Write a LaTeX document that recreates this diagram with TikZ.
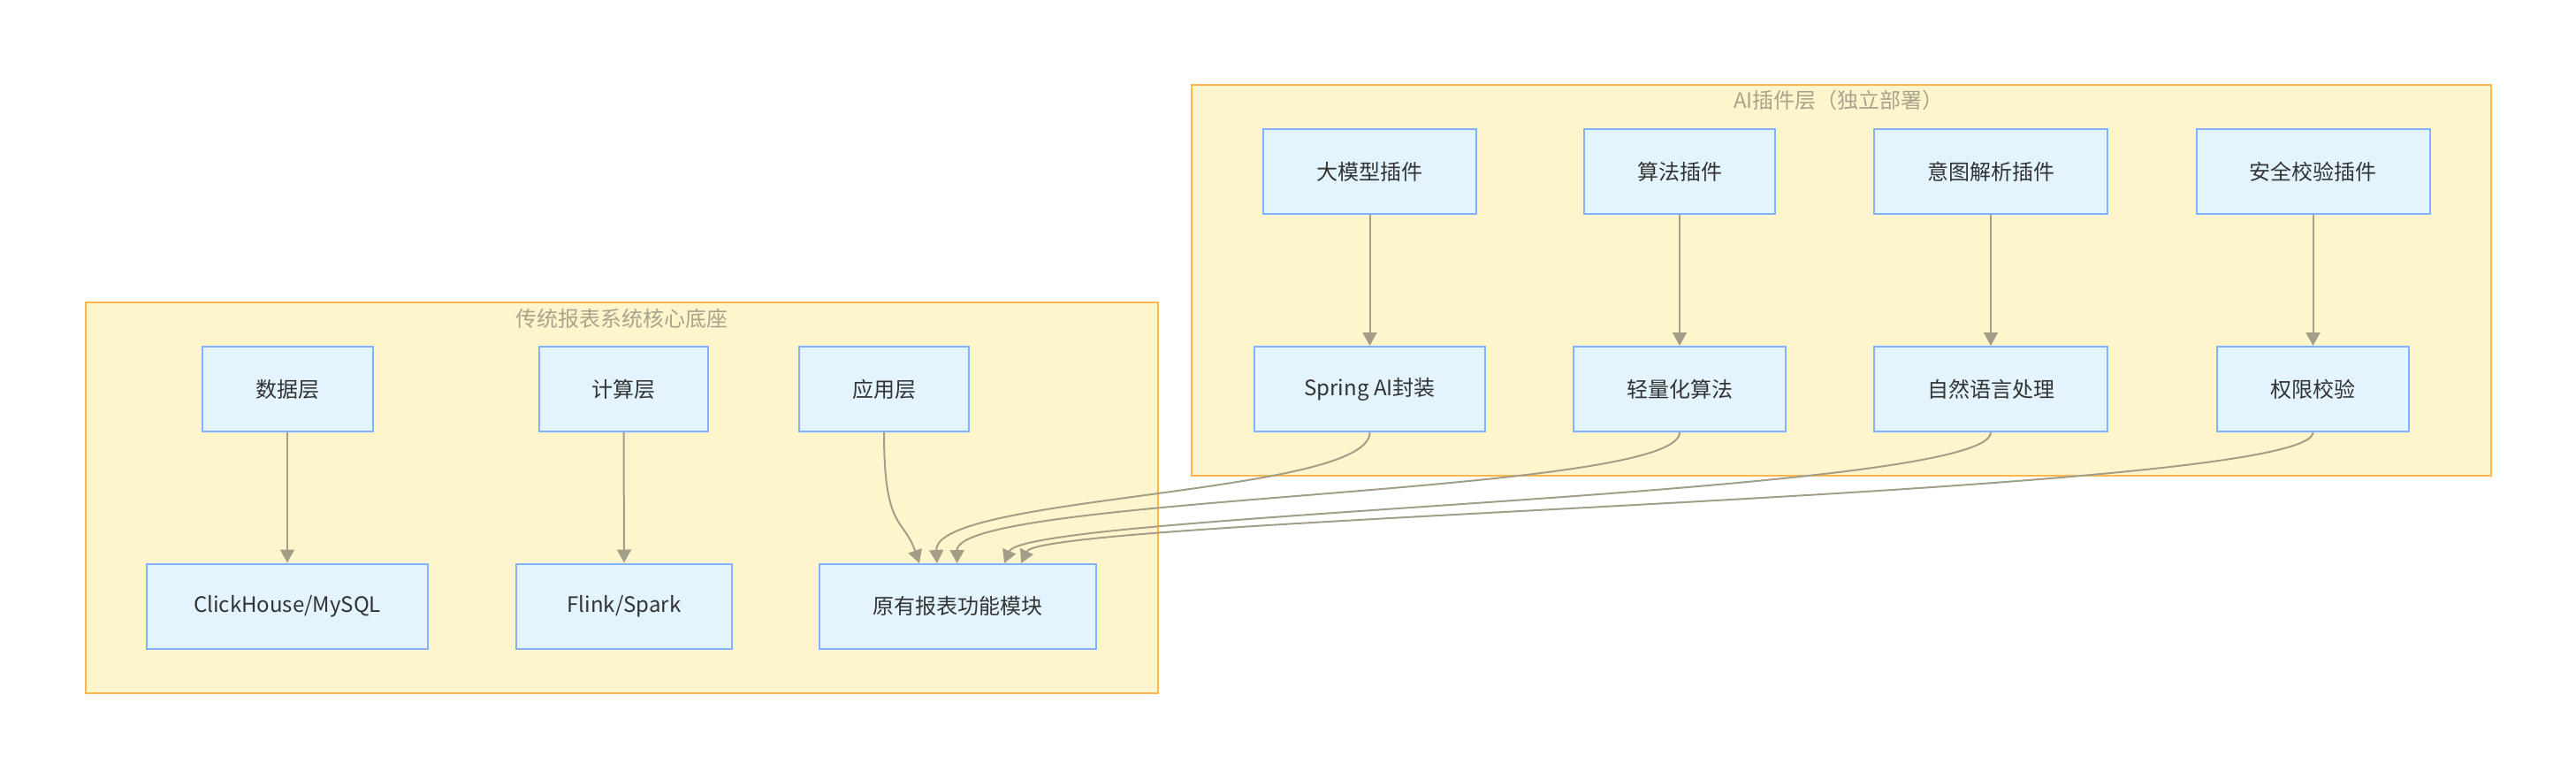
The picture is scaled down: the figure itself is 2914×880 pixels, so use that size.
\documentclass[tikz,border=0pt]{standalone}
\usepackage{fontspec}
\setmainfont{Noto Sans CJK SC}
\usetikzlibrary{arrows.meta}
\definecolor{clfill}{HTML}{FFF5CC}
\definecolor{cldraw}{HTML}{FFB74D}
\definecolor{ndfill}{HTML}{E3F4FE}
\definecolor{nddraw}{HTML}{82B1FF}
\definecolor{edgec}{HTML}{A39E87}
\definecolor{tipc}{HTML}{8E8972}
\definecolor{titlec}{HTML}{A8A38C}
\definecolor{txt}{HTML}{333333}
\tikzset{
  cluster/.style={fill=clfill,draw=cldraw,line width=1pt},
  ctitle/.style={text=titlec,font=\fontsize{12pt}{14pt}\selectfont,inner sep=0pt},
  box/.style={rectangle,fill=ndfill,draw=nddraw,line width=1pt,minimum height=48pt,
    text=txt,font=\fontsize{12pt}{14pt}\selectfont,inner sep=0pt},
  edge/.style={draw=edgec,line width=1pt,
    -{Triangle[width=8pt,length=7.5pt,fill=edgec]}},
}
\begin{document}
\begin{tikzpicture}[x=0.5pt,y=-0.5pt]
\useasboundingbox[fill=white] (0,0) rectangle (2914,880);
% clusters
\draw[cluster] (96.6,342) rectangle (1310,784);
\node[ctitle] (lt) at (703,360) {传统报表系统核心底座};
\draw[cluster] (1348,96) rectangle (2818,538);
\node[ctitle] (rt) at (2080,113) {AI插件层（独立部署）};
% left nodes
\node[box,minimum width=96.5pt] (d) at (325,440) {数据层};
\node[box,minimum width=95.5pt] (c) at (705.5,440) {计算层};
\node[box,minimum width=96pt] (a) at (1000,440) {应用层};
\node[box,minimum width=159pt] (ck) at (325,685.5) {ClickHouse/MySQL};
\node[box,minimum width=122pt] (fs) at (706,685.5) {Flink/Spark};
\node[box,minimum width=156.5pt] (yy) at (1083.5,685.5) {原有报表功能模块};
% right nodes
\node[box,minimum width=120.5pt] (p1) at (1549.5,194) {大模型插件};
\node[box,minimum width=108pt] (p2) at (1900,194) {算法插件};
\node[box,minimum width=132pt] (p3) at (2252,194) {意图解析插件};
\node[box,minimum width=132pt] (p4) at (2616.5,194) {安全校验插件};
\node[box,minimum width=130.5pt] (q1) at (1549.5,440) {Spring AI封装};
\node[box,minimum width=120pt] (q2) at (1900,440) {轻量化算法};
\node[box,minimum width=132pt] (q3) at (2252,440) {自然语言处理};
\node[box,minimum width=108.5pt] (q4) at (2616.5,440) {权限校验};
% target points on 原有报表功能模块
\coordinate (t0) at (1040,637);
\coordinate (t1) at (1060,637);
\coordinate (t2) at (1082.6,637);
\coordinate (t3) at (1136,637);
\coordinate (t4) at (1155,637);
% edges
\draw[edge] (d.south) -- (ck.north);
\draw[edge] (c.south) -- (fs.north);
\draw[edge] (p1.south) -- (q1.north);
\draw[edge] (p2.south) -- (q2.north);
\draw[edge] (p3.south) -- (q3.north);
\draw[edge] (p4.south) -- (q4.north);
\draw[edge] (a.south) .. controls (1000,600) and (1022,585) .. (t0);
\draw[edge] (q1.south) .. controls (1549.5,560) and (1056,560) .. (t1);
\draw[edge] (q2.south) .. controls (1900,560) and (1082.6,560) .. (t2);
\draw[edge] (q3.south) .. controls (2252,560) and (1160,580) .. (t3);
\draw[edge] (q4.south) .. controls (2616.5,560) and (1180,585) .. (t4);
\end{tikzpicture}
\end{document}
